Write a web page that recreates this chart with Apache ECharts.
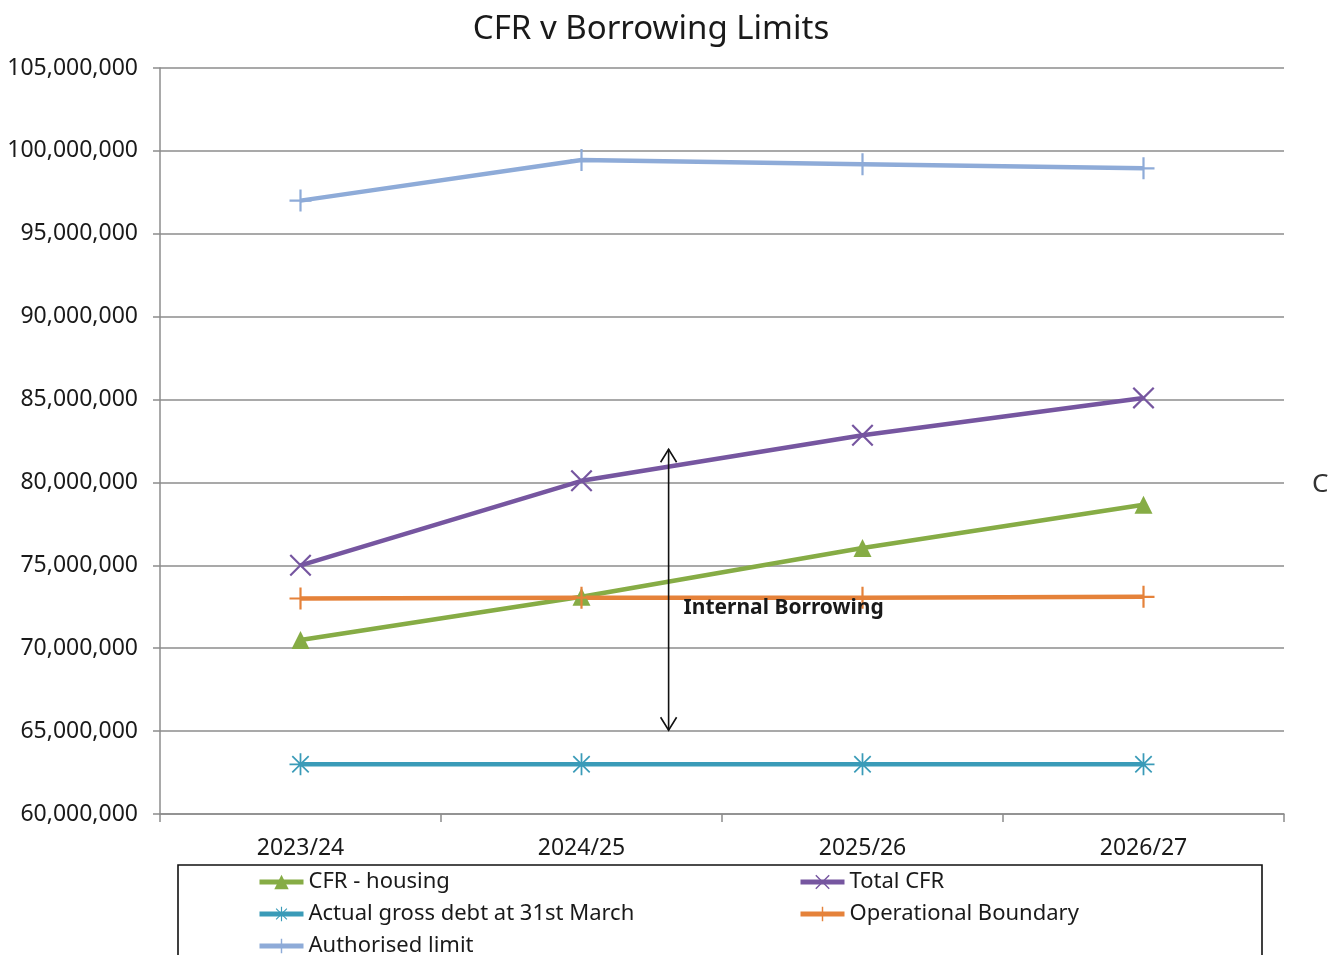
<!DOCTYPE html>
<html>
<head>
<meta charset="utf-8">
<script src="https://cdn.jsdelivr.net/npm/echarts@6/dist/echarts.min.js"></script>
<style>
html,body{margin:0;padding:0;background:#fff;}
#chart{width:1333px;height:955px;}
</style>
</head>
<body>
<div id="chart"></div>
<script>
const categories = ['2023/24', '2024/25', '2025/26', '2026/27'];
const cfrHousing = [70500000, 73100000, 76050000, 78650000];
const totalCfr = [75000000, 80100000, 82850000, 85100000];
const actualGrossDebt = [63000000, 63000000, 63000000, 63000000];
const operationalBoundary = [73000000, 73050000, 73050000, 73100000];
const authorisedLimit = [97000000, 99450000, 99200000, 98950000];
const yTicks = { min: 60000000, max: 105000000, interval: 5000000 };
const arrowSpan = { from: 82000000, to: 65050000, catPos: 1.31 };
const annotationText = 'Internal Borrowing';

const FONT = '"Noto Sans", "Open Sans", sans-serif';
const PLUS = 'path://M9,0 L11,0 L11,9 L20,9 L20,11 L11,11 L11,20 L9,20 L9,11 L0,11 L0,9 L9,9 Z';
const CROSS = 'path://M0,1.4 L1.4,0 L10,8.6 L18.6,0 L20,1.4 L11.4,10 L20,18.6 L18.6,20 L10,11.4 L1.4,20 L0,18.6 L8.6,10 Z';
const STAR = 'path://M9.2,0 L10.8,0 L10.8,9.2 L20,9.2 L20,10.8 L10.8,10.8 L10.8,20 L9.2,20 L9.2,10.8 L0,10.8 L0,9.2 L9.2,9.2 Z M2,3.1 L3.1,2 L10,8.9 L16.9,2 L18,3.1 L11.1,10 L18,16.9 L16.9,18 L10,11.1 L3.1,18 L2,16.9 L8.9,10 Z';

function mk(name, data, color, symbol, size) {
  return {
    name: name, type: 'line', data: data,
    symbol: symbol, symbolSize: size, showSymbol: true,
    lineStyle: { color: color, width: 4.5 },
    itemStyle: { color: color, borderWidth: 0 },
    emphasis: { disabled: true },
    z: 3
  };
}

const chart = echarts.init(document.getElementById('chart'), null, { renderer: 'canvas' });
const legendText = { fontFamily: FONT, fontSize: 22, color: '#1a1a1a', lineHeight: 22 };
const legendCommon = {
  orient: 'vertical', top: 871, height: 200, itemWidth: 44, itemHeight: 18, itemGap: 10, padding: 0,
  textStyle: legendText, lineStyle: { width: 5 }
};
const option = {
  animation: false,
  backgroundColor: '#fff',
  title: {
    text: 'CFR v Borrowing Limits', left: 646, top: 8, textAlign: 'center',
    textStyle: { fontFamily: FONT, fontSize: 33, fontWeight: 'normal', color: '#1a1a1a' }
  },
  grid: { left: 160, right: 49, top: 68, bottom: 141, containLabel: false },
  xAxis: {
    type: 'category', data: categories, boundaryGap: true,
    axisLine: { lineStyle: { color: '#8c8c8c', width: 1.5 } },
    axisTick: { show: true, length: 8, alignWithLabel: false, lineStyle: { color: '#8c8c8c', width: 1.5 } },
    axisLabel: { margin: 23, fontFamily: FONT, fontSize: 23, color: '#1a1a1a' },
    splitLine: { show: false }
  },
  yAxis: {
    type: 'value', min: yTicks.min, max: yTicks.max, interval: yTicks.interval,
    axisLine: { show: true, lineStyle: { color: '#8c8c8c', width: 1.5 } },
    axisTick: { show: true, length: 7, lineStyle: { color: '#8c8c8c', width: 1.5 } },
    axisLabel: {
      margin: 22, fontFamily: FONT, fontSize: 23, color: '#1a1a1a',
      formatter: v => v.toLocaleString('en-US')
    },
    splitLine: { show: true, lineStyle: { color: '#8c8c8c', width: 1.5 } }
  },
  legend: [
    Object.assign({ left: 257, data: ['CFR - housing', 'Actual gross debt at 31st March', 'Authorised limit'] }, legendCommon),
    Object.assign({ left: 798, data: ['Total CFR', 'Operational Boundary'] }, legendCommon)
  ],
  series: [
    mk('CFR - housing', cfrHousing, '#86ac45', 'triangle', 18),
    mk('Total CFR', totalCfr, '#7656a0', CROSS, 22),
    mk('Actual gross debt at 31st March', actualGrossDebt, '#3a9bb8', STAR, 22),
    mk('Operational Boundary', operationalBoundary, '#e5823a', PLUS, 22),
    mk('Authorised limit', authorisedLimit, '#8eabd8', PLUS, 22)
  ]
};
chart.setOption(option);

// annotation arrow placed through the chart's own scales
const c0 = chart.convertToPixel({ xAxisIndex: 0 }, categories[1]);
const c1 = chart.convertToPixel({ xAxisIndex: 0 }, categories[2]);
const ax = c0 + (arrowSpan.catPos - 1) * (c1 - c0);
const ay1 = chart.convertToPixel({ yAxisIndex: 0 }, arrowSpan.from);
const ay2 = chart.convertToPixel({ yAxisIndex: 0 }, arrowSpan.to);
const ops = chart.convertToPixel({ yAxisIndex: 0 }, operationalBoundary[1]);
const stroke = { stroke: '#111', lineWidth: 1.6 };
chart.setOption({
  graphic: [
    { type: 'line', shape: { x1: ax, y1: ay1, x2: ax, y2: ay2 }, style: stroke, z: 10 },
    { type: 'polyline', shape: { points: [[ax - 8, ay1 + 13], [ax, ay1], [ax + 8, ay1 + 13]] }, style: Object.assign({ fill: null }, stroke), z: 10 },
    { type: 'polyline', shape: { points: [[ax - 8, ay2 - 13], [ax, ay2], [ax + 8, ay2 - 13]] }, style: Object.assign({ fill: null }, stroke), z: 10 },
    { type: 'text', left: ax + 15, top: ops, z: 10,
      style: { text: annotationText, fontFamily: FONT, fontSize: 21, fontWeight: 'bold', fill: '#1a1a1a' } },
    { type: 'rect', shape: { x: 178, y: 865, width: 1084, height: 110 }, style: { fill: null, stroke: '#111', lineWidth: 1.6 }, z: 1 },
    { type: 'text', left: 1312, top: 472, style: { text: 'C', fontFamily: FONT, fontSize: 26, fill: '#333' } }
  ]
});
</script>
</body>
</html>
